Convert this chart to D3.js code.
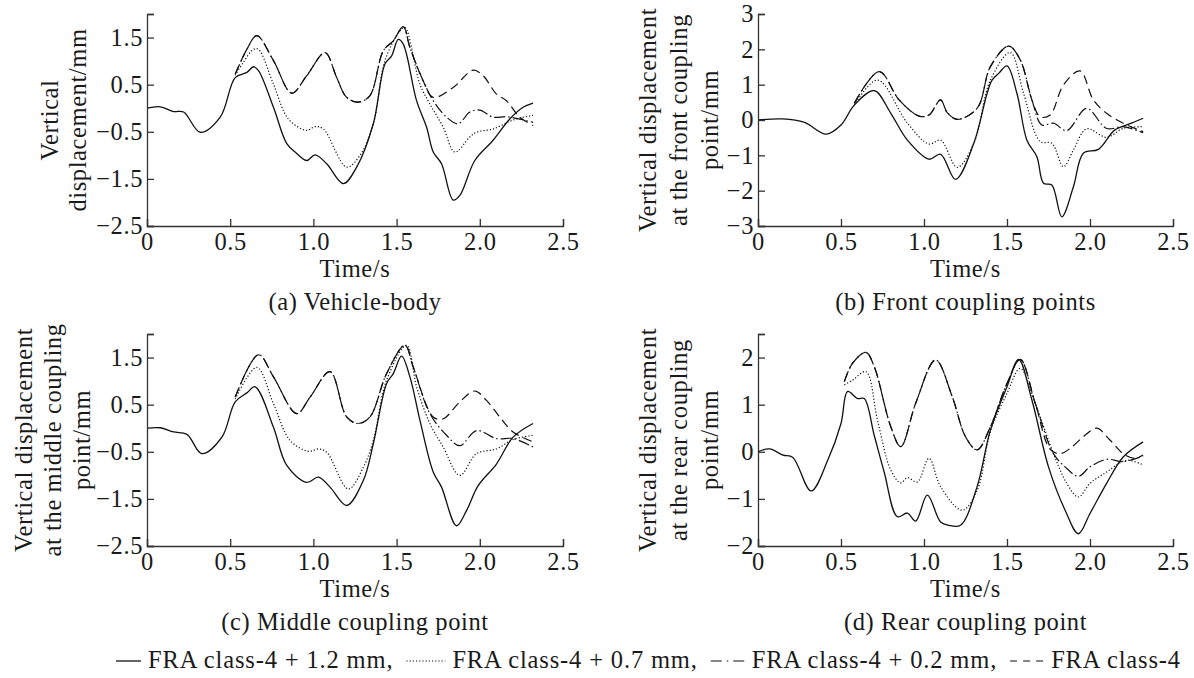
<!DOCTYPE html>
<html>
<head>
<meta charset="utf-8">
<script src="https://cdn.jsdelivr.net/npm/d3@7"></script>
<style>
  body { margin: 0; background: #fff; }
  text { font-family: "Liberation Serif", serif; fill: #1a1a1a; letter-spacing: 0.6px; }
</style>
</head>
<body>
<div id="chart"></div>
<script>
// series order: +1.2 mm (solid), +0.7 mm (dotted), +0.2 mm (dash-dot), class-4 (dashed)
var seriesNames = ["FRA class-4 + 1.2 mm,", "FRA class-4 + 0.7 mm,", "FRA class-4 + 0.2 mm,", "FRA class-4"]
var xTicks = [0, 0.5, 1.0, 1.5, 2.0, 2.5]

// (a) vehicle body  [time s, displacement mm]
var bodySolid = [[0,0],[0.08,0.03],[0.16,-0.07],[0.22,-0.08],[0.32,-0.51],[0.44,-0.19],[0.53,0.65],[0.6,0.76],[0.64,0.88],[0.67,0.8],[0.76,0.02],[0.84,-0.75],[0.9,-0.96],[0.96,-1.11],[1.01,-0.99],[1.08,-1.18],[1.18,-1.6],[1.26,-1.25],[1.36,-0.33],[1.43,0.94],[1.47,1.11],[1.51,1.46],[1.54,1.36],[1.62,0.16],[1.68,-0.4],[1.72,-0.93],[1.77,-1.18],[1.84,-1.95],[1.88,-1.85],[1.97,-1.11],[2.08,-0.68],[2.18,-0.23],[2.26,0.02],[2.32,0.11]]
var bodyDot = [[0.53,0.7],[0.58,0.98],[0.64,1.25],[0.67,1.25],[0.76,0.51],[0.85,-0.23],[0.96,-0.47],[1.01,-0.39],[1.06,-0.44],[1.2,-1.25],[1.28,-1.0],[1.36,-0.33],[1.43,1.01],[1.52,1.64],[1.55,1.71],[1.64,0.51],[1.7,0.09],[1.78,-0.4],[1.85,-0.93],[1.94,-0.61],[1.98,-0.51],[2.08,-0.44],[2.2,-0.25],[2.32,-0.15]]
var bodyDashDot = [[0.53,0.72],[0.6,1.25],[0.66,1.54],[0.76,1.01],[0.87,0.32],[0.96,0.69],[1.07,1.18],[1.14,0.65],[1.2,0.23],[1.27,0.13],[1.34,0.27],[1.42,1.22],[1.48,1.43],[1.54,1.73],[1.58,1.29],[1.66,0.58],[1.72,0.16],[1.8,-0.19],[1.87,-0.33],[1.94,-0.08],[2.0,-0.04],[2.08,-0.19],[2.16,-0.18],[2.24,-0.23],[2.32,-0.3]]
var bodyDash = [[0.53,0.72],[0.6,1.25],[0.66,1.54],[0.76,1.01],[0.87,0.32],[0.96,0.69],[1.07,1.18],[1.14,0.65],[1.2,0.23],[1.27,0.13],[1.34,0.27],[1.42,1.22],[1.48,1.43],[1.54,1.73],[1.58,1.29],[1.66,0.58],[1.72,0.23],[1.84,0.44],[1.96,0.81],[2.02,0.69],[2.1,0.3],[2.16,0.16],[2.24,-0.19],[2.32,-0.37]]

// (b) front coupling points
var frontSolid = [[0,0],[0.15,0.03],[0.28,-0.07],[0.41,-0.4],[0.5,-0.14],[0.58,0.42],[0.7,0.83],[0.8,0.19],[0.9,-0.57],[1.03,-1.11],[1.1,-0.97],[1.19,-1.68],[1.3,-0.66],[1.38,0.75],[1.41,1.13],[1.45,1.32],[1.5,1.53],[1.56,0.75],[1.62,-0.57],[1.68,-1.04],[1.72,-1.79],[1.77,-1.84],[1.83,-2.74],[1.9,-1.89],[1.96,-0.94],[2.05,-0.83],[2.15,-0.28],[2.25,-0.09],[2.32,0.05]]
var frontDot = [[0.58,0.42],[0.72,1.13],[0.9,-0.09],[1.03,-0.68],[1.1,-0.57],[1.2,-1.34],[1.3,-0.66],[1.4,1.13],[1.52,1.91],[1.6,0.75],[1.7,-0.61],[1.77,-0.66],[1.84,-1.32],[1.9,-0.85],[1.98,-0.25],[2.1,-0.49],[2.2,-0.24],[2.32,-0.19]]
var frontDashDot = [[0.58,0.47],[0.73,1.37],[0.85,0.57],[0.97,0.11],[1.03,0.14],[1.1,0.57],[1.14,0.21],[1.2,0.02],[1.32,0.33],[1.4,1.51],[1.51,2.09],[1.58,1.7],[1.65,0.57],[1.71,-0.14],[1.78,-0.09],[1.86,-0.3],[1.98,0.33],[2.1,-0.24],[2.2,-0.19],[2.32,-0.36]]
var frontDash = [[0.58,0.47],[0.73,1.37],[0.85,0.57],[0.97,0.11],[1.03,0.14],[1.1,0.57],[1.14,0.21],[1.2,0.02],[1.32,0.33],[1.4,1.51],[1.51,2.09],[1.58,1.7],[1.65,0.57],[1.7,0.09],[1.76,0.14],[1.84,0.99],[1.94,1.39],[2.02,0.57],[2.1,0.19],[2.2,-0.09],[2.32,-0.33]]

// (c) middle coupling point
var midSolid = [[0,0],[0.08,0.01],[0.16,-0.08],[0.24,-0.13],[0.33,-0.54],[0.45,-0.19],[0.53,0.56],[0.6,0.75],[0.65,0.88],[0.76,0.02],[0.84,-0.79],[0.96,-1.15],[1.03,-1.04],[1.1,-1.25],[1.2,-1.64],[1.3,-1.11],[1.36,-0.33],[1.44,0.95],[1.48,1.16],[1.53,1.53],[1.58,1.09],[1.64,0.17],[1.72,-0.93],[1.77,-1.25],[1.86,-2.07],[1.92,-1.75],[1.99,-1.22],[2.1,-0.76],[2.2,-0.19],[2.32,0.1]]
var midDot = [[0.53,0.62],[0.66,1.29],[0.76,0.52],[0.86,-0.26],[0.97,-0.49],[1.03,-0.44],[1.08,-0.51],[1.21,-1.29],[1.3,-0.83],[1.36,-0.26],[1.44,1.02],[1.56,1.76],[1.62,0.88],[1.7,0.1],[1.78,-0.4],[1.88,-1.0],[1.98,-0.54],[2.1,-0.44],[2.2,-0.24],[2.32,-0.15]]
var midDashDot = [[0.53,0.66],[0.67,1.56],[0.76,1.09],[0.9,0.31],[0.98,0.66],[1.1,1.2],[1.2,0.24],[1.27,0.1],[1.34,0.24],[1.44,1.16],[1.55,1.76],[1.6,1.3],[1.7,0.31],[1.8,-0.15],[1.88,-0.37],[1.98,-0.05],[2.1,-0.22],[2.2,-0.22],[2.32,-0.4]]
var midDash = [[0.53,0.66],[0.67,1.56],[0.76,1.09],[0.9,0.31],[0.98,0.66],[1.1,1.2],[1.2,0.24],[1.27,0.1],[1.34,0.24],[1.44,1.16],[1.55,1.76],[1.6,1.3],[1.72,0.24],[1.78,0.2],[1.88,0.56],[1.97,0.79],[2.04,0.59],[2.12,0.24],[2.2,-0.08],[2.32,-0.29]]

// (d) rear coupling point
var rearSolid = [[0,0],[0.07,0.06],[0.15,-0.07],[0.21,-0.12],[0.32,-0.83],[0.42,-0.18],[0.5,0.6],[0.54,1.28],[0.6,1.13],[0.64,1.13],[0.7,0.35],[0.76,-0.43],[0.84,-1.38],[0.9,-1.3],[0.95,-1.47],[1.02,-0.92],[1.1,-1.49],[1.15,-1.56],[1.22,-1.56],[1.32,-0.74],[1.4,0.46],[1.5,1.38],[1.57,1.96],[1.65,1.1],[1.75,-0.32],[1.85,-1.24],[1.93,-1.74],[2.0,-1.31],[2.1,-0.67],[2.2,-0.11],[2.32,0.21]]
var rearDot = [[0.52,1.42],[0.57,1.52],[0.65,1.7],[0.72,0.67],[0.8,-0.39],[0.86,-0.66],[0.9,-0.55],[0.96,-0.64],[1.03,-0.14],[1.1,-0.74],[1.23,-1.24],[1.32,-0.82],[1.4,0.43],[1.5,1.24],[1.58,1.77],[1.67,1.03],[1.78,-0.04],[1.86,-0.67],[1.93,-0.96],[2.0,-0.67],[2.1,-0.43],[2.22,-0.18],[2.32,-0.28]]
var rearDashDot = [[0.52,1.49],[0.57,1.88],[0.65,2.11],[0.7,1.81],[0.8,0.53],[0.86,0.11],[0.95,1.03],[1.07,1.95],[1.17,1.17],[1.25,0.32],[1.32,0.04],[1.4,0.53],[1.5,1.45],[1.58,1.96],[1.67,1.03],[1.78,-0.04],[1.85,-0.32],[1.93,-0.52],[2.0,-0.32],[2.1,-0.16],[2.2,-0.21],[2.32,-0.09]]
var rearDash = [[0.52,1.49],[0.57,1.88],[0.65,2.11],[0.7,1.81],[0.8,0.53],[0.86,0.11],[0.95,1.03],[1.07,1.95],[1.17,1.17],[1.25,0.32],[1.32,0.04],[1.4,0.53],[1.5,1.45],[1.58,1.96],[1.67,1.03],[1.76,0.05],[1.82,-0.04],[1.88,0.07],[1.96,0.32],[2.04,0.5],[2.12,0.25],[2.2,-0.04],[2.27,-0.14],[2.32,-0.07]]

var panels = [
  { id: "a", yDomain: [-2.5, 2.0], yTicks: [-2.5, -1.5, -0.5, 0.5, 1.5, 2.0], yFmt: ".1f",
    ylabel: ["Vertical", "displacement/mm"], caption: "(a) Vehicle-body",
    series: [bodySolid, bodyDot, bodyDashDot, bodyDash] },
  { id: "b", yDomain: [-3, 3], yTicks: [-3, -2, -1, 0, 1, 2, 3], yFmt: "d",
    ylabel: ["Vertical displacement", "at the front coupling", "point/mm"], caption: "(b) Front coupling points",
    series: [frontSolid, frontDot, frontDashDot, frontDash] },
  { id: "c", yDomain: [-2.5, 2.0], yTicks: [-2.5, -1.5, -0.5, 0.5, 1.5, 2.0], yFmt: ".1f",
    ylabel: ["Vertical displacement", "at the middle coupling", "point/mm"], caption: "(c) Middle coupling point",
    series: [midSolid, midDot, midDashDot, midDash] },
  { id: "d", yDomain: [-2, 2.5], yTicks: [-2, -1, 0, 1, 2, 2.5], yFmt: "d",
    ylabel: ["Vertical displacement", "at the rear coupling", "point/mm"], caption: "(d) Rear coupling point",
    series: [rearSolid, rearDot, rearDashDot, rearDash] }
];

// layout of the four plot boxes
var boxes = {
  a: { left: 147, right: 563, top: 14, bottom: 226, labelX: 63, gap: 28 },
  b: { left: 758, right: 1173, top: 14, bottom: 226, labelX: 678, gap: 31 },
  c: { left: 147, right: 563, top: 334, bottom: 546, labelX: 52, gap: 29 },
  d: { left: 758, right: 1173, top: 334, bottom: 546, labelX: 678, gap: 31 }
};

var styles = [
  { dash: null, width: 1.3 },
  { dash: "1.2,2", width: 1.2 },
  { dash: "11,3,1.5,3", width: 1.2 },
  { dash: "9,5", width: 1.2 }
];

var fontSize = 24.5;

var svg = d3.select("#chart").append("svg")
  .attr("width", 1194)
  .attr("height", 678);

panels.forEach(function(p) {
  var b = boxes[p.id];
  var x = d3.scaleLinear().domain([0, 2.5]).range([b.left, b.right]);
  var y = d3.scaleLinear().domain(p.yDomain).range([b.bottom, b.top]);

  var g = svg.append("g");

  // lines
  var line = d3.line()
    .x(function(d) { return x(d[0]) })
    .y(function(d) { return y(d[1]) })
    .curve(d3.curveCatmullRom.alpha(0.5));

  // draw dashed first so dash-dot sits on top where they share a path
  [3, 2, 1, 0].forEach(function(i) {
    g.append("path")
      .datum(p.series[i])
      .attr("d", line)
      .attr("fill", "none")
      .attr("stroke", "#111")
      .attr("stroke-width", styles[i].width)
      .attr("stroke-dasharray", styles[i].dash);
  });

  // x axis
  g.append("g")
    .attr("transform", "translate(0," + b.bottom + ")")
    .call(d3.axisBottom(x).tickValues(xTicks)
      .tickSizeInner(-7).tickSizeOuter(-7).tickPadding(7)
      .tickFormat(function(d) { return d === 0 ? "0" : d3.format(".1f")(d) }));

  // y axis
  var fmt = d3.format(p.yFmt);
  g.append("g")
    .attr("transform", "translate(" + b.left + ",0)")
    .call(d3.axisLeft(y).tickValues(p.yTicks)
      .tickSizeInner(-7).tickSizeOuter(-7).tickPadding(4)
      .tickFormat(function(d) { return d === p.yDomain[1] && p.id !== "b" ? "" : fmt(d) }));

  g.selectAll(".domain").attr("stroke", "#333").attr("stroke-width", 1.3);
  g.selectAll(".tick line").attr("stroke", "#333").attr("stroke-width", 1.3);
  g.selectAll(".tick text")
    .style("font-family", "Liberation Serif")
    .style("font-size", fontSize + "px")
    .attr("fill", "#1a1a1a");

  // axis title
  g.append("text")
    .attr("x", (b.left + b.right) / 2)
    .attr("y", b.bottom + 51)
    .attr("text-anchor", "middle")
    .style("font-size", fontSize + "px")
    .text("Time/s");

  // caption
  g.append("text")
    .attr("x", (b.left + b.right) / 2)
    .attr("y", b.bottom + 84)
    .attr("text-anchor", "middle")
    .style("font-size", fontSize + "px")
    .text(p.caption);

  // y label, stacked rotated lines
  var n = p.ylabel.length;
  var cy = (b.top + b.bottom) / 2;
  p.ylabel.forEach(function(s, i) {
    var cx = b.labelX + (i - (n - 1) / 2) * b.gap;
    g.append("text")
      .attr("transform", "translate(" + cx + "," + cy + ") rotate(-90)")
      .attr("text-anchor", "middle")
      .attr("dy", "0.35em")
      .style("font-size", fontSize + "px")
      .text(s);
  });
});

// legend along the bottom
var legend = svg.append("g");
var lx = 116, ly = 668;
var sampleW = [25, 39, 34, 34];
seriesNames.forEach(function(name, i) {
  legend.append("line")
    .attr("x1", lx).attr("x2", lx + sampleW[i])
    .attr("y1", ly - 7).attr("y2", ly - 7)
    .attr("stroke", "#111")
    .attr("stroke-width", styles[i].width)
    .attr("stroke-dasharray", i === 2 ? "11,5,1.5,5" : i === 3 ? "7,6" : styles[i].dash);
  lx += sampleW[i] + 7;
  var t = legend.append("text")
    .attr("x", lx).attr("y", ly)
    .style("font-size", fontSize + "px")
    .style("letter-spacing", "0.85px")
    .text(name);
  lx += t.node().getComputedTextLength() + 13;
});
</script>
</body>
</html>
